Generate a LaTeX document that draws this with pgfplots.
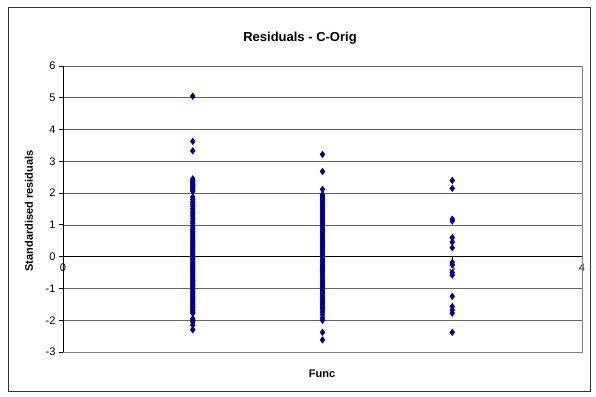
\documentclass[border=0pt]{standalone}
\usepackage{pgfplots}
\pgfplotsset{compat=1.18}
\usepackage{fontspec}
\setmainfont{Liberation Sans}
\definecolor{navy}{HTML}{000080}
\begin{document}
\begin{tikzpicture}[x=1pt,y=1pt]
\useasboundingbox (0,0) rectangle (596,396);
\draw[black!80, line width=1pt] (8.5,4.5) rectangle (590.5,388.5);
\node[font=\bfseries\fontsize{13}{15}\selectfont] at (300,358) {Residuals - C-Orig};
\node[font=\bfseries\fontsize{11}{13}\selectfont, rotate=90] at (29,185) {Standardised residuals};
\node[font=\bfseries\fontsize{11}{13}\selectfont] at (322,22) {Func};
\begin{axis}[
 at={(63pt,44pt)}, anchor=south west, scale only axis, width=519pt, height=286pt,
 xmin=0, xmax=4, ymin=-3, ymax=6,
 axis x line=middle, axis y line=left, axis line style={-, black, line width=0.8pt},
 xtick={0,1,2,3,4}, ytick={-3,-2,-1,0,1,2,3,4,5,6},
 tick align=outside, major tick length=4pt, tick style={black, line width=0.8pt},
 hide obscured x ticks=false, hide obscured y ticks=false,
 ymajorgrids, grid style={black!60, line width=0.7pt},
 tick label style={font=\fontsize{11}{13}\selectfont},
 /pgf/number format/assume math mode=true,
 clip=false,
]
\draw[black!50, line width=0.8pt] (rel axis cs:0,0) -- (rel axis cs:1,0) -- (rel axis cs:1,1);
\addplot[only marks, mark=diamond*, mark size=3.3pt, mark options={draw=navy, fill=navy}] coordinates {
(1,5.05) (1,3.63) (1,3.33)
(1,2.45) (1,2.40) (1,2.36) (1,2.32) (1,2.28) (1,2.24) (1,2.20) (1,2.15) (1,2.10) (1,2.06)
(1,1.88) (1,1.80) (1,1.72) (1,1.65) (1,1.58) (1,1.50) (1,1.42) (1,1.35) (1,1.28) (1,1.20)
(1,1.12) (1,1.05) (1,0.98) (1,0.92) (1,0.86) (1,0.80) (1,0.74) (1,0.68) (1,0.62) (1,0.56)
(1,0.50) (1,0.45) (1,0.40) (1,0.35) (1,0.30) (1,0.25) (1,0.20) (1,0.15) (1,0.10) (1,0.05)
(1,0.00) (1,-0.05) (1,-0.10) (1,-0.15) (1,-0.20) (1,-0.25) (1,-0.30) (1,-0.35) (1,-0.40)
(1,-0.45) (1,-0.50) (1,-0.55) (1,-0.60) (1,-0.65) (1,-0.70) (1,-0.75) (1,-0.80) (1,-0.85)
(1,-0.90) (1,-0.95) (1,-1.00) (1,-1.05) (1,-1.10) (1,-1.15) (1,-1.20) (1,-1.25) (1,-1.30)
(1,-1.35) (1,-1.40) (1,-1.45) (1,-1.50) (1,-1.55) (1,-1.60) (1,-1.65) (1,-1.70) (1,-1.75)
(1,-1.78) (1,-1.95) (1,-2.00) (1,-2.05) (1,-2.15) (1,-2.30)
(2,3.22) (2,2.68) (2,2.12) (2,1.95) (2,1.90) (2,1.85) (2,1.80) (2,1.75) (2,1.70) (2,1.64)
(2,1.58) (2,1.52) (2,1.46) (2,1.40) (2,1.34) (2,1.28) (2,1.22) (2,1.16) (2,1.10) (2,1.04)
(2,0.98) (2,0.92) (2,0.86) (2,0.80) (2,0.74) (2,0.68) (2,0.62) (2,0.56) (2,0.50) (2,0.44)
(2,0.38) (2,0.32) (2,0.26) (2,0.20) (2,0.14) (2,0.08) (2,0.02) (2,-0.04) (2,-0.10) (2,-0.16)
(2,-0.22) (2,-0.28) (2,-0.34) (2,-0.40) (2,-0.46) (2,-0.52) (2,-0.58) (2,-0.64) (2,-0.70)
(2,-0.76) (2,-0.82) (2,-0.88) (2,-0.94) (2,-1.00) (2,-1.06) (2,-1.12) (2,-1.18) (2,-1.24)
(2,-1.30) (2,-1.36) (2,-1.42) (2,-1.48) (2,-1.54) (2,-1.60) (2,-1.66) (2,-1.74) (2,-1.82)
(2,-1.92) (2,-2.00) (2,-2.38) (2,-2.62)
(3,2.40) (3,2.15) (3,1.18) (3,1.12) (3,0.60) (3,0.46) (3,0.28) (3,-0.18) (3,-0.26) (3,-0.50)
(3,-0.58) (3,-1.25) (3,-1.57) (3,-1.68) (3,-1.78) (3,-2.38)
};
\end{axis}
\end{tikzpicture}
\end{document}
